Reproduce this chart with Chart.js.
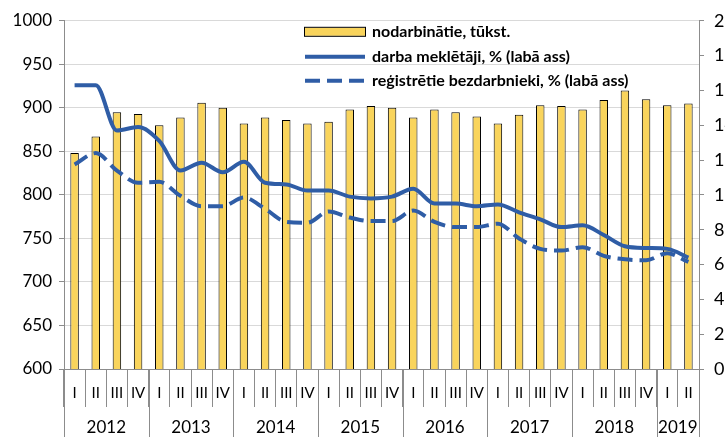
<!DOCTYPE html>
<html>
<head>
<meta charset="utf-8">
<script src="https://cdn.jsdelivr.net/npm/chart.js@4.4.0/dist/chart.umd.min.js"></script>
<style>
  html, body { margin: 0; padding: 0; background: #fff; overflow: hidden; }
  #wrap { width: 725px; height: 437px; overflow: hidden; }
  #box { width: 740px; height: 437px; }
</style>
</head>
<body>
<div id="wrap"><div id="box"><canvas id="chart"></canvas></div></div>
<script>
// quarter tick labels and the year row beneath them
const quarters = ['I','II','III','IV', 'I','II','III','IV', 'I','II','III','IV', 'I','II','III','IV',
                  'I','II','III','IV', 'I','II','III','IV', 'I','II','III','IV', 'I','II']
const years = ['2012','2013','2014','2015','2016','2017','2018','2019']
const quartersInYear = [4, 4, 4, 4, 4, 4, 4, 2]

// nodarbinātie, tūkst. (left axis)
const employed = [848, 867, 895, 893, 880, 889, 906, 900, 882, 889, 886, 882, 884, 898, 902, 900,
                  889, 898, 895, 890, 882, 892, 903, 902, 898, 909, 920, 910, 903, 905]
// darba meklētāji, % (right axis)
const jobSeekers = [16.3, 16.3, 13.7, 13.9, 13.1, 11.4, 11.85, 11.3, 11.9, 10.7, 10.6, 10.25, 10.25, 9.9, 9.8, 9.9,
                    10.35, 9.5, 9.5, 9.35, 9.45, 9.0, 8.6, 8.15, 8.25, 7.7, 7.05, 6.95, 6.9, 6.4]
// reģistrētie bezdarbnieki, % (right axis)
const registered = [11.75, 12.4, 11.4, 10.7, 10.75, 9.95, 9.35, 9.35, 9.85, 9.2, 8.45, 8.4, 9.05, 8.7, 8.5, 8.5,
                    9.1, 8.45, 8.15, 8.15, 8.35, 7.5, 6.9, 6.8, 7.0, 6.5, 6.3, 6.25, 6.65, 6.15]

const leftTicks = { min: 600, max: 1000, step: 50 }
const rightTicks = { min: 0, max: 20, step: 2 }

const YELLOW = '#F9D45C'
const BLUE = '#2F5DA6'
const AXIS = '#8c8c8c'
const FONT = 'Lato'

// year row under the quarters, with the long separators
const yearRow = {
  id: 'yearRow',
  afterDraw(chart) {
    const xs = chart.scales.x
    const c = chart.ctx
    const half = (xs.getPixelForValue(1) - xs.getPixelForValue(0)) / 2
    c.save()
    c.strokeStyle = AXIS
    c.lineWidth = 1
    c.fillStyle = '#000'
    c.font = '17px ' + FONT
    c.textAlign = 'center'
    c.textBaseline = 'middle'
    let i = 0
    years.forEach((yr, k) => {
      const left = xs.getPixelForValue(i) - half
      const right = xs.getPixelForValue(i + quartersInYear[k] - 1) + half
      const lx = Math.round(left) + 0.5
      c.beginPath(); c.moveTo(lx, xs.top); c.lineTo(lx, chart.height); c.stroke()
      if (k == years.length - 1) {
        const rx = Math.round(right) + 0.5
        c.beginPath(); c.moveTo(rx, xs.top); c.lineTo(rx, chart.height); c.stroke()
      }
      c.fillText(yr, (left + right) / 2, xs.top + 59)
      i += quartersInYear[k]
    })
    c.restore()
  }
}

// legend inside the plot, three rows
const legendBox = {
  id: 'legendBox',
  afterDraw(chart) {
    const c = chart.ctx
    const a = chart.chartArea
    const x0 = a.left + 240
    const rows = [a.top + 11, a.top + 36, a.top + 60]
    const ds = chart.data.datasets
    const items = [ds[2], ds[0], ds[1]]
    c.save()
    items.forEach((d, k) => {
      const y = rows[k]
      if (d.type == 'bar') {
        c.fillStyle = d.backgroundColor
        c.fillRect(x0, y - 4, 61, 8)
        c.strokeStyle = d.borderColor
        c.lineWidth = 1
        c.strokeRect(x0 + 0.5, y - 4.5, 61, 9)
      } else {
        c.strokeStyle = d.borderColor
        c.lineWidth = d.borderWidth
        c.setLineDash(d.borderDash || [])
        c.beginPath(); c.moveTo(x0 + 1, y); c.lineTo(x0 + 61, y); c.stroke()
        c.setLineDash([])
      }
      c.fillStyle = '#000'
      c.font = 'bold 16px ' + FONT
      c.textAlign = 'left'
      c.textBaseline = 'middle'
      c.fillText(d.label, x0 + 68, y)
    })
    c.restore()
  }
}

const ctx = document.getElementById('chart').getContext('2d')
new Chart(ctx, {
  data: {
    labels: quarters,
    datasets: [
      {
        type: 'line',
        label: 'darba meklētāji, % (labā ass)',
        data: jobSeekers,
        yAxisID: 'y2',
        borderColor: BLUE,
        borderWidth: 4,
        pointRadius: 0,
        cubicInterpolationMode: 'monotone',
        fill: false,
        order: 0
      },
      {
        type: 'line',
        label: 'reģistrētie bezdarbnieki, % (labā ass)',
        data: registered,
        yAxisID: 'y2',
        borderColor: BLUE,
        borderWidth: 4,
        borderDash: [15, 7],
        pointRadius: 0,
        cubicInterpolationMode: 'monotone',
        fill: false,
        order: 1
      },
      {
        type: 'bar',
        label: 'nodarbinātie, tūkst.',
        data: employed,
        yAxisID: 'y',
        backgroundColor: YELLOW,
        borderColor: '#000',
        borderWidth: 1,
        barPercentage: 0.4,
        categoryPercentage: 1,
        order: 2
      }
    ]
  },
  options: {
    responsive: true,
    maintainAspectRatio: false,
    animation: false,
    layout: { padding: { top: 20, left: 0, right: 0, bottom: 0 } },
    plugins: {
      legend: { display: false },
      tooltip: { enabled: false }
    },
    scales: {
      x: {
        offset: true,
        grid: { offset: true, drawOnChartArea: false, tickLength: 38, color: AXIS },
        border: { color: AXIS },
        ticks: { color: '#000', font: { family: FONT, size: 15 }, padding: -23, maxRotation: 0, autoSkip: false },
        afterFit(scale) { scale.height = 68 }
      },
      y: {
        position: 'left',
        min: leftTicks.min,
        max: leftTicks.max,
        grid: { color: '#d9d9d9', tickColor: AXIS, tickLength: 5 },
        border: { color: AXIS },
        ticks: { stepSize: leftTicks.step, format: { useGrouping: false }, color: '#000', font: { family: FONT, size: 17 }, padding: 7 },
        afterFit(scale) { scale.width = 64 }
      },
      y2: {
        position: 'right',
        min: rightTicks.min,
        max: rightTicks.max,
        grid: { drawOnChartArea: false, tickColor: AXIS, tickLength: 5 },
        border: { color: AXIS },
        ticks: { stepSize: rightTicks.step, color: '#000', font: { family: FONT, size: 18 }, padding: 10 },
        afterFit(scale) { scale.width = 41 }
      }
    }
  },
  plugins: [yearRow, legendBox]
})
</script>
</body>
</html>
